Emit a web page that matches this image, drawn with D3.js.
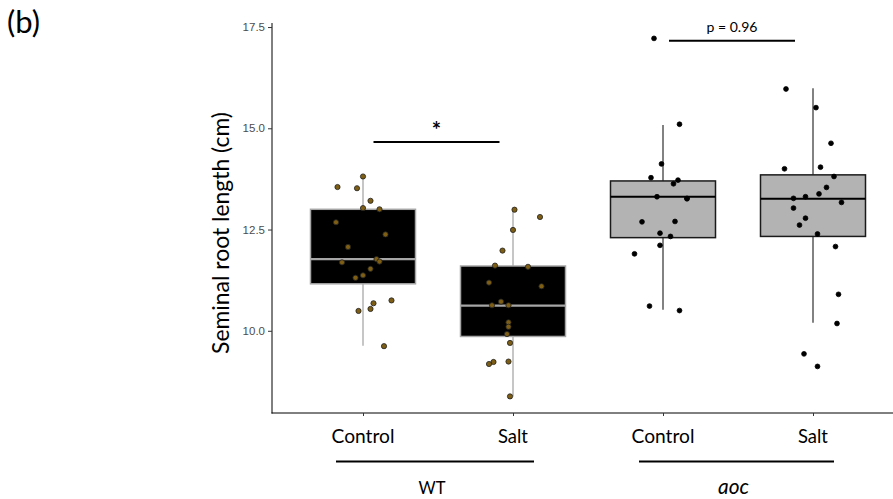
<!DOCTYPE html>
<html><head><meta charset="utf-8">
<script src="https://cdn.jsdelivr.net/npm/d3@7/dist/d3.min.js"></script>
<style>body{margin:0;background:#fff}svg{display:block}</style>
</head><body>
<svg id="c" width="893" height="499"></svg>
<script>
// ---- data ----
const groups = ["WT Control", "WT Salt", "aoc Control", "aoc Salt"];
const xLabels = ["Control", "Salt", "Control", "Salt"];
const yTicks = [10.0, 12.5, 15.0, 17.5];

const wtControl = [13.81,13.55,13.52,13.21,13.03,13.00,12.68,12.38,12.07,11.77,11.71,11.69,11.53,11.37,11.31,10.75,10.68,10.54,10.49,9.62];
const wtControlJitter = [0,-0.17,-0.04,0.05,0,0.11,-0.18,0.15,-0.10,0.09,0.11,-0.14,0.05,0,-0.05,0.19,0.07,0.05,-0.03,0.14];
const wtSalt = [12.99,12.81,12.49,11.98,11.61,11.58,11.19,11.10,10.72,10.63,10.63,10.21,10.10,9.92,9.70,9.23,9.18,9.24,8.38];
const wtSaltJitter = [0.01,0.18,0,-0.07,-0.12,0.10,-0.16,0.19,-0.08,-0.14,-0.03,-0.03,-0.03,-0.04,-0.02,-0.13,-0.16,-0.03,-0.02];
const aocControl = [17.22,15.10,14.12,13.78,13.72,13.63,13.31,13.27,13.26,12.69,12.70,12.41,12.33,12.11,11.90,10.61,10.50];
const aocControlJitter = [-0.06,0.11,-0.01,-0.08,0.10,0.07,-0.04,0.16,0.16,-0.14,0.08,-0.02,0.05,-0.02,-0.19,-0.09,0.11];
const aocSalt = [15.97,15.51,14.63,14.00,14.04,13.81,13.54,13.38,13.31,13.27,13.17,13.03,12.78,12.61,12.39,12.08,10.90,10.18,9.43,9.12];
const aocSaltJitter = [-0.18,0.02,0.12,-0.19,0.05,0.14,0.09,0.04,-0.05,-0.13,0.19,-0.13,-0.05,-0.09,0.03,0.15,0.17,0.16,-0.06,0.03];

// box statistics: [lower whisker, Q1, median, Q3, upper whisker]
const boxLow = [9.63, 8.38, 10.52, 10.20];
const boxQ1 = [11.16, 9.86, 12.30, 12.33];
const boxMed = [11.77, 10.62, 13.31, 13.26];
const boxQ3 = [13.00, 11.60, 13.70, 13.85];
const boxHigh = [13.81, 12.99, 15.08, 15.99];

const sigLabels = ["*", "p = 0.96"];
const genotypes = ["WT", "aoc"];

// ---- drawing ----
const svg = d3.select("#c");
const x = d3.scaleLinear().domain([0.4, 4.6]).range([273, 903]);
const y = d3.scaleLinear().domain([7.97, 17.6]).range([413, 23]);
const boxHalf = 0.35;
const SANS = "Lato, 'Open Sans', sans-serif";

function fit(sel, target) {
  const w = sel.node().getComputedTextLength();
  const fs = parseFloat(sel.style("font-size"));
  sel.style("font-size", (fs * target / w) + "px");
}

// boxes
const styles = [
  {fill:"#000", stroke:"#a6a6a6", med:"#a6a6a6", whisk:"#b3b3b3", pfill:"#7d5e14", pstroke:"#222", r:2.6},
  {fill:"#000", stroke:"#a6a6a6", med:"#a6a6a6", whisk:"#b3b3b3", pfill:"#7d5e14", pstroke:"#222", r:2.6},
  {fill:"#b3b3b3", stroke:"#1a1a1a", med:"#000", whisk:"#595959", pfill:"#000", pstroke:"#000", r:2.4},
  {fill:"#b3b3b3", stroke:"#1a1a1a", med:"#000", whisk:"#595959", pfill:"#000", pstroke:"#000", r:2.4}
];
const pts = [[wtControl, wtControlJitter],[wtSalt, wtSaltJitter],[aocControl, aocControlJitter],[aocSalt, aocSaltJitter]];

groups.forEach((g, i) => {
  const c = i + 1, s = styles[i];
  const gg = svg.append("g");
  gg.append("line").attr("x1", x(c)).attr("x2", x(c)).attr("y1", y(boxHigh[i])).attr("y2", y(boxQ3[i]))
    .attr("stroke", s.whisk).attr("stroke-width", 1.5);
  gg.append("line").attr("x1", x(c)).attr("x2", x(c)).attr("y1", y(boxQ1[i])).attr("y2", y(boxLow[i]))
    .attr("stroke", s.whisk).attr("stroke-width", 1.5);
  gg.append("rect").attr("x", x(c - boxHalf)).attr("width", x(c + boxHalf) - x(c - boxHalf))
    .attr("y", y(boxQ3[i])).attr("height", y(boxQ1[i]) - y(boxQ3[i]))
    .attr("fill", s.fill).attr("stroke", s.stroke).attr("stroke-width", 1.5);
  gg.append("line").attr("x1", x(c - boxHalf)).attr("x2", x(c + boxHalf)).attr("y1", y(boxMed[i])).attr("y2", y(boxMed[i]))
    .attr("stroke", s.med).attr("stroke-width", 2.2);
  const [vals, jit] = pts[i];
  gg.selectAll("circle").data(vals).join("circle")
    .attr("cx", (d, k) => x(c + jit[k])).attr("cy", d => y(d)).attr("r", s.r)
    .attr("fill", s.pfill).attr("stroke", s.pstroke).attr("stroke-width", 0.8);
});

// axes
const yAxis = svg.append("g").attr("transform", "translate(272,0)")
  .call(d3.axisLeft(y).tickValues(yTicks).tickFormat(d3.format(".1f")).tickSize(4).tickPadding(3));
yAxis.select(".domain").attr("d", "M0,23V413.5").attr("stroke", "#000").attr("stroke-width", 1);
yAxis.selectAll(".tick line").attr("stroke", "#333");
yAxis.selectAll(".tick text").attr("font-family", "'Liberation Sans', Arial, sans-serif").attr("font-size", 11.5).attr("fill", "#4d4d4d");

const xAxis = svg.append("g").attr("transform", "translate(0,413)")
  .call(d3.axisBottom(x).tickValues([1,2,3,4]).tickFormat("").tickSize(3));
xAxis.select(".domain").attr("d", "M271.5,0H893").attr("stroke", "#000").attr("stroke-width", 1);
xAxis.selectAll(".tick line").attr("stroke", "#333");

// x category labels
xLabels.forEach((t, i) => {
  const tx = svg.append("text").attr("x", x(i + 1)).attr("y", 443).attr("text-anchor", "middle")
    .attr("font-family", SANS).style("font-size", "18px").attr("fill", "#000").text(t);
  fit(tx, t === "Control" ? 63 : 30);
});

// genotype brackets
const genoSpan = [[0.82, 2.14], [2.84, 4.14]];
genotypes.forEach((t, i) => {
  const [a, b] = genoSpan[i];
  svg.append("line").attr("x1", x(a)).attr("x2", x(b)).attr("y1", 461.5).attr("y2", 461.5)
    .attr("stroke", "#000").attr("stroke-width", 1.8);
  const tx = svg.append("text").attr("x", x((a + b) / 2) - 3).attr("y", 494).attr("text-anchor", "middle")
    .attr("font-family", SANS).style("font-size", "18px").attr("font-style", i === 1 ? "italic" : "normal")
    .attr("fill", "#000").text(t);
  fit(tx, i === 0 ? 27 : 31);
});

// significance
const sigSpan = [[1.07, 1.91], [3.04, 3.88]];
const sigY = [142, 40.7];
sigLabels.forEach((t, i) => {
  const [a, b] = sigSpan[i];
  svg.append("line").attr("x1", x(a)).attr("x2", x(b)).attr("y1", sigY[i]).attr("y2", sigY[i])
    .attr("stroke", "#000").attr("stroke-width", 2);
  const tx = svg.append("text").attr("x", x((a + b) / 2)).attr("text-anchor", "middle")
    .attr("font-family", SANS).attr("fill", "#000").text(t);
  if (i === 0) { tx.attr("y", 138).attr("font-weight", "bold").style("font-size", "22px"); }
  else { tx.attr("y", 31.7).style("font-size", "13px"); fit(tx, 51); }
});

// y title
const yt = svg.append("text").attr("transform", "translate(229,233) rotate(-90)").attr("text-anchor", "middle")
  .attr("font-family", SANS).style("font-size", "18px").attr("fill", "#000").text("Seminal root length (cm)");
fit(yt, 242);

// panel tag
svg.append("text").attr("x", 7).attr("y", 33).attr("font-family", SANS).style("font-size", "31px")
  .attr("fill", "#000").text("(b)");
</script>
</body></html>
